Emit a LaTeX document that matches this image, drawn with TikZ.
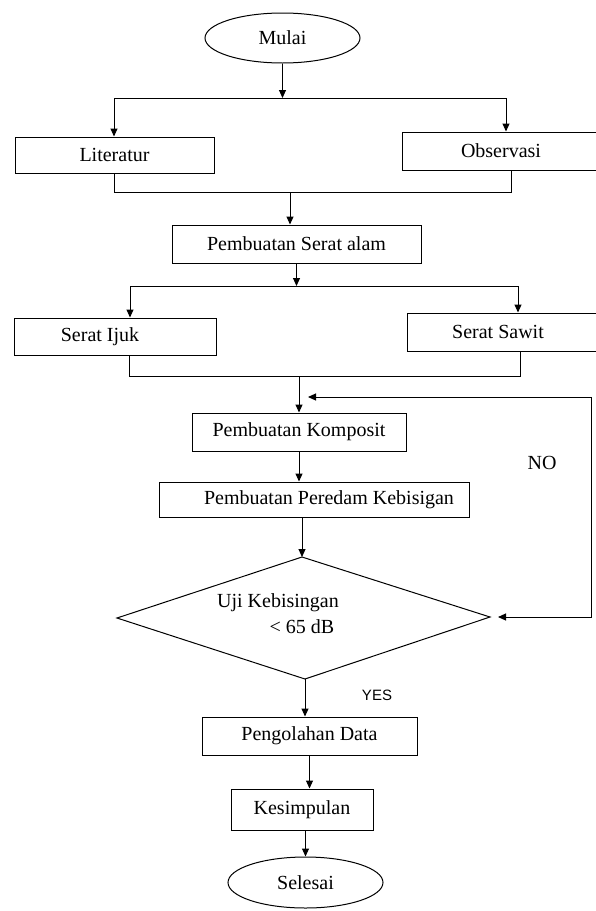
\documentclass[tikz,border=0pt]{standalone}
\usepackage{fontspec}
\setmainfont{Liberation Serif}
\newfontfamily\yesfont{Liberation Sans}
\usetikzlibrary{shapes.geometric,arrows.meta}
\begin{document}
\begin{tikzpicture}[x=1pt,y=-1pt,
  line width=1pt,
  txt/.style={font=\fontsize{20}{23}\selectfont, inner sep=0pt},
  box/.style={draw, rectangle, txt},
  oval/.style={draw, ellipse, txt},
  arr/.style={-{Triangle[length=8pt,width=7pt]}},
  twoarr/.style={{Triangle[length=8pt,width=7pt]}-{Triangle[length=8pt,width=7pt]}}
]
\useasboundingbox (0,0) rectangle (596,911);
\fill[white] (0,0) rectangle (596,911);

% nodes
\node[oval, minimum width=155, minimum height=50] (mulai) at (282.5,38) {Mulai};
\node[box, minimum width=199, minimum height=36] (lit) at (114.5,155) {Literatur};
\node[box, minimum width=198, minimum height=38] (obs) at (501,151) {Observasi};
\node[box, minimum width=249, minimum height=38] (serat) at (296.5,244) {Pembuatan Serat alam};
\node[box, minimum width=202, minimum height=37] (ijuk) at (115,336.5) {Serat Ijuk\hspace*{30pt}};
\node[box, minimum width=193, minimum height=38] (sawit) at (503.5,332) {Serat Sawit\hspace*{11pt}};
\node[box, minimum width=214, minimum height=38] (kom) at (299,432) {Pembuatan Komposit};
\node[box, minimum width=310, minimum height=35] (per) at (314,499.5) {\hspace*{30pt}Pembuatan Peredam Kebisigan};
\node[box, minimum width=215, minimum height=38] (peng) at (309.5,736) {Pengolahan Data};
\node[box, minimum width=142, minimum height=41] (kes) at (302,809.5) {Kesimpulan};
\node[oval, minimum width=155, minimum height=51] (sel) at (305.5,882.5) {Selesai};

% decision diamond (skewed, drawn as polygon)
\coordinate (dT) at (302,557);
\coordinate (dL) at (117,618);
\coordinate (dR) at (490,617);
\coordinate (dB) at (305,679);
\draw (dT) -- (dR) -- (dB) -- (dL) -- cycle;
\node[txt] (uji) at (278,603) {Uji Kebisingan};
\node[txt] (db) at (302,627) {< 65 dB};
\node[txt] (no) at (542,463) {NO};
\node[inner sep=0pt, font=\yesfont\fontsize{15}{18}\selectfont] (yes) at (377,695) {YES};

% split 1
\coordinate (s1L) at (114,98);
\coordinate (s1R) at (506,98);
\draw[arr] (mulai.south) -- (mulai.south |- s1L);
\draw (s1L) -- (s1R);
\draw[arr] (s1L) -- (s1L |- lit.north);
\draw[arr] (s1R) -- (s1R |- obs.north);

% join 1
\coordinate (j1L) at (114,192);
\coordinate (j1R) at (511,192);
\coordinate (j1M) at (290,192);
\draw (j1L |- lit.south) -- (j1L) -- (j1R) -- (j1R |- obs.south);
\draw[arr] (j1M) -- (j1M |- serat.north);

% split 2
\coordinate (s2L) at (130,286);
\coordinate (s2R) at (518,286);
\draw[arr] (serat.south) -- (serat.south |- s2L);
\draw (s2L) -- (s2R);
\draw[arr] (s2L) -- (s2L |- ijuk.north);
\draw[arr] (s2R) -- (s2R |- sawit.north);

% join 2
\coordinate (j2L) at (129,376);
\coordinate (j2R) at (520,376);
\coordinate (j2M) at (299,376);
\draw (j2L |- ijuk.south) -- (j2L) -- (j2R) -- (j2R |- sawit.south);
\draw[arr] (j2M) -- (j2M |- kom.north);

% main chain
\draw[arr] (kom.south) -- (kom.south |- per.north);
\draw[arr] (dT |- per.south) -- (dT);
\draw[arr] (dB) -- (dB |- peng.north);
\draw[arr] (peng.south) -- (peng.south |- kes.north);
\draw[arr] (kes.south -| sel.north) -- (sel.north);

% NO loop
\coordinate (nA) at (498,617);
\coordinate (nB) at (591,617);
\coordinate (nC) at (591,397);
\coordinate (nD) at (308,397);
\draw[twoarr] (nA) -- (nB) -- (nC) -- (nD);
\end{tikzpicture}
\end{document}
